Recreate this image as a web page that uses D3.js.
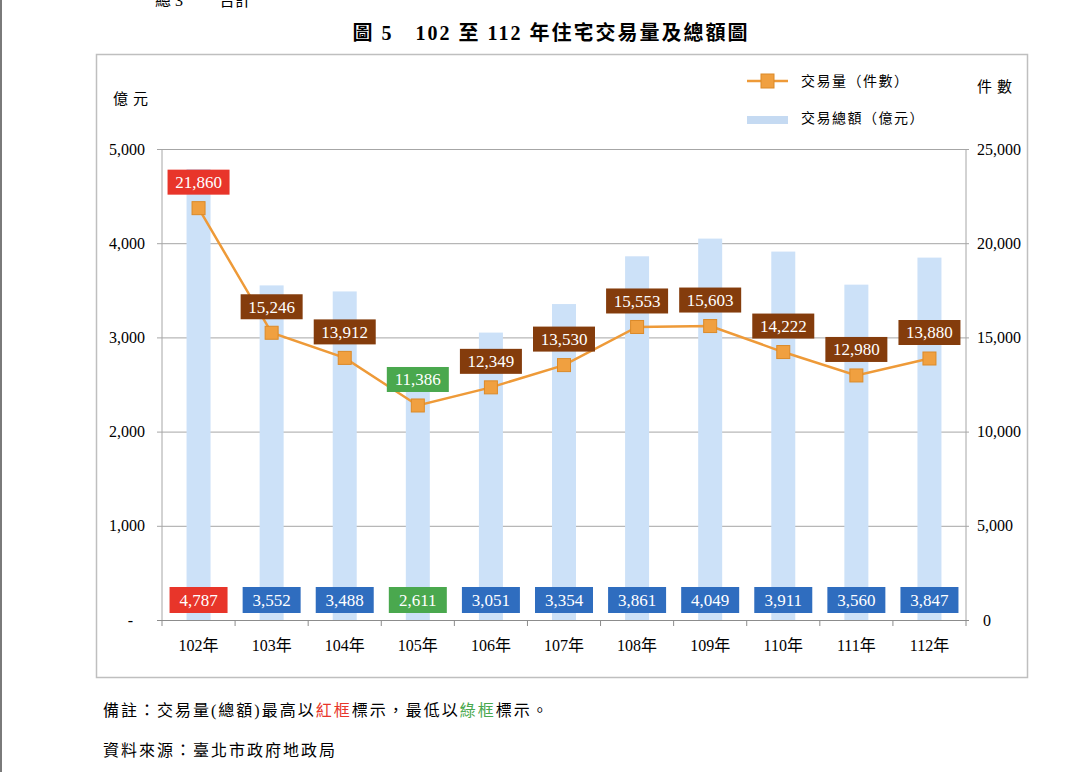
<!DOCTYPE html>
<html><head><meta charset="utf-8">
<script src="https://cdn.jsdelivr.net/npm/d3@7"></script>
<style>
body{margin:0;background:#fff;}
svg{display:block;}
text{font-family:"Liberation Serif","Times New Roman","Noto Sans CJK TC",serif;}
.cjk{font-family:"Liberation Serif","Noto Sans CJK TC",serif;}
</style></head>
<body><svg id="c" width="1080" height="772"></svg>
<script>
const years = ["102年","103年","104年","105年","106年","107年","108年","109年","110年","111年","112年"];
const counts = [21860,15246,13912,11386,12349,13530,15553,15603,14222,12980,13880];
const amounts = [4787,3552,3488,2611,3051,3354,3861,4049,3911,3560,3847];
const leftTicks = [0,1000,2000,3000,4000,5000];
const rightTicks = [0,5000,10000,15000,20000,25000];
const title = "圖 5　102 至 112 年住宅交易量及總額圖";

const svg = d3.select("#c");
const fmt = d3.format(",");
const C = {bar:"#cce1f8", line:"#ee9a38", mfill:"#f0a040", mstroke:"#dc8a28",
  brown:"#843c0c", red:"#e8352a", green:"#4aa84e", blue:"#2f6dbf", grid:"#a6a6a6", text:"#000"};

// page decoration
svg.append("rect").attr("x",0).attr("y",0).attr("width",2).attr("height",772).attr("fill","#7a7a7a");
svg.append("text").attr("x",155).attr("y",6).attr("font-size",16).attr("class","cjk").text("總 3　　 合計");

// frame
svg.append("rect").attr("x",96.5).attr("y",54.5).attr("width",931).attr("height",623)
  .attr("fill","none").attr("stroke","#bfbfbf").attr("stroke-width",1.5);

// title
svg.append("text").attr("x",551).attr("y",40).attr("text-anchor","middle")
  .attr("font-size",20).attr("font-weight","bold").attr("letter-spacing",2).text(title);

const L=162, R=966, T=149, B=620;
const x = d3.scaleBand().domain(years).range([L,R]).padding(0);
const yL = d3.scaleLinear().domain([0,5000]).range([B,T]);
const yR = d3.scaleLinear().domain([0,25000]).range([B,T]);

// gridlines & left axis
const gl = svg.append("g").attr("transform",`translate(${L},0)`)
  .call(d3.axisLeft(yL).tickValues(leftTicks).tickSize(-(R-L)).tickPadding(17)
    .tickFormat(d=> d===0 ? "-" : fmt(d)));
gl.select(".domain").remove();
gl.selectAll(".tick line").attr("stroke",C.grid).attr("x1",-5).attr("x2",R-L);
gl.selectAll(".tick text").attr("font-size",16).attr("fill",C.text)
  .attr("font-family","Liberation Serif");
gl.selectAll(".tick").filter(d=>d===0).select("text").attr("dx",-12);

// right axis labels
const gr = svg.append("g").attr("transform",`translate(${R},0)`)
  .call(d3.axisRight(yR).tickValues(rightTicks).tickSize(3).tickPadding(8).tickFormat(d=>fmt(d)));
gr.select(".domain").remove();
gr.selectAll(".tick line").attr("stroke",C.grid);
gr.selectAll(".tick text").attr("font-size",16).attr("fill",C.text).attr("font-family","Liberation Serif");
gr.selectAll(".tick").filter(d=>d===0).select("text").attr("dx",6);

// vertical axis lines
svg.append("line").attr("x1",L).attr("x2",L).attr("y1",T).attr("y2",B).attr("stroke",C.grid);
svg.append("line").attr("x1",R).attr("x2",R).attr("y1",T).attr("y2",B).attr("stroke",C.grid);

// bars
svg.append("g").selectAll("rect").data(amounts).join("rect")
  .attr("x",(d,i)=>x(years[i])+x.bandwidth()/2-12).attr("width",24)
  .attr("y",d=>yL(d)).attr("height",d=>B-yL(d)).attr("fill",C.bar);

// bottom axis
const gb = svg.append("g").attr("transform",`translate(0,${B})`)
  .call(d3.axisBottom(x).tickSize(0).tickPadding(20));
gb.select(".domain").attr("stroke","#8c8c8c").attr("d",`M${L-5},0.5H${R+3}`);
gb.selectAll(".tick text").attr("font-size",16).attr("fill",C.text).attr("class","cjk");
const bounds = d3.range(years.length+1).map(i=>L+i*x.bandwidth());
gb.selectAll("line.sep").data(bounds).join("line").attr("class","sep")
  .attr("x1",d=>d).attr("x2",d=>d).attr("y1",0).attr("y2",6).attr("stroke","#8c8c8c");

// line
const cx = i => x(years[i])+x.bandwidth()/2;
svg.append("path").datum(counts)
  .attr("d",d3.line().x((d,i)=>cx(i)).y(d=>yR(d)))
  .attr("fill","none").attr("stroke",C.line).attr("stroke-width",2.5);
svg.append("g").selectAll("rect").data(counts).join("rect")
  .attr("x",(d,i)=>cx(i)-6.5).attr("y",d=>yR(d)-6.5).attr("width",13).attr("height",13)
  .attr("fill",C.mfill).attr("stroke",C.mstroke).attr("stroke-width",1);

// labels
const maxC=d3.max(counts), minC=d3.min(counts), maxA=d3.max(amounts), minA=d3.min(amounts);
const cLab = svg.append("g").selectAll("g").data(counts).join("g")
  .attr("transform",(d,i)=>`translate(${cx(i)},${yR(d)-26})`);
cLab.append("rect").attr("x",-31).attr("y",-12.5).attr("width",62).attr("height",25)
  .attr("fill",d=>d===maxC?C.red:d===minC?C.green:C.brown);
cLab.append("text").attr("text-anchor","middle").attr("dy","0.35em").attr("font-size",17)
  .attr("fill","#fff").text(d=>fmt(d));

const aLab = svg.append("g").selectAll("g").data(amounts).join("g")
  .attr("transform",(d,i)=>`translate(${cx(i)},600)`);
aLab.append("rect").attr("x",-29).attr("y",-13).attr("width",58).attr("height",26)
  .attr("fill",d=>d===maxA?C.red:d===minA?C.green:C.blue);
aLab.append("text").attr("text-anchor","middle").attr("dy","0.35em").attr("font-size",17)
  .attr("fill","#fff").text(d=>fmt(d));

// axis units
svg.append("text").attr("x",113).attr("y",104).attr("font-size",15).attr("letter-spacing",5).attr("class","cjk").text("億元");
svg.append("text").attr("x",977).attr("y",92).attr("font-size",15).attr("letter-spacing",5).attr("class","cjk").text("件數");

// legend
const lg = svg.append("g");
lg.append("line").attr("x1",747).attr("x2",788).attr("y1",81).attr("y2",81).attr("stroke",C.line).attr("stroke-width",2.5);
lg.append("rect").attr("x",761).attr("y",74).attr("width",13).attr("height",14).attr("fill",C.mfill).attr("stroke",C.mstroke);
lg.append("text").attr("x",801).attr("y",86).attr("font-size",14).attr("letter-spacing",1.5).attr("class","cjk").text("交易量（件數）");
lg.append("rect").attr("x",747).attr("y",116).attr("width",41).attr("height",8).attr("fill","#c5daf2");
lg.append("text").attr("x",801).attr("y",123).attr("font-size",14).attr("letter-spacing",1.5).attr("class","cjk").text("交易總額（億元）");

// notes
const n1 = svg.append("text").attr("x",103).attr("y",716).attr("font-size",16).attr("letter-spacing",2).attr("class","cjk");
n1.append("tspan").text("備註：交易量(總額)最高以");
n1.append("tspan").attr("fill",C.red).text("紅框");
n1.append("tspan").text("標示，最低以");
n1.append("tspan").attr("fill",C.green).text("綠框");
n1.append("tspan").text("標示。");
svg.append("text").attr("x",103).attr("y",756).attr("font-size",16).attr("letter-spacing",2).attr("class","cjk").text("資料來源：臺北市政府地政局");
</script></body></html>
